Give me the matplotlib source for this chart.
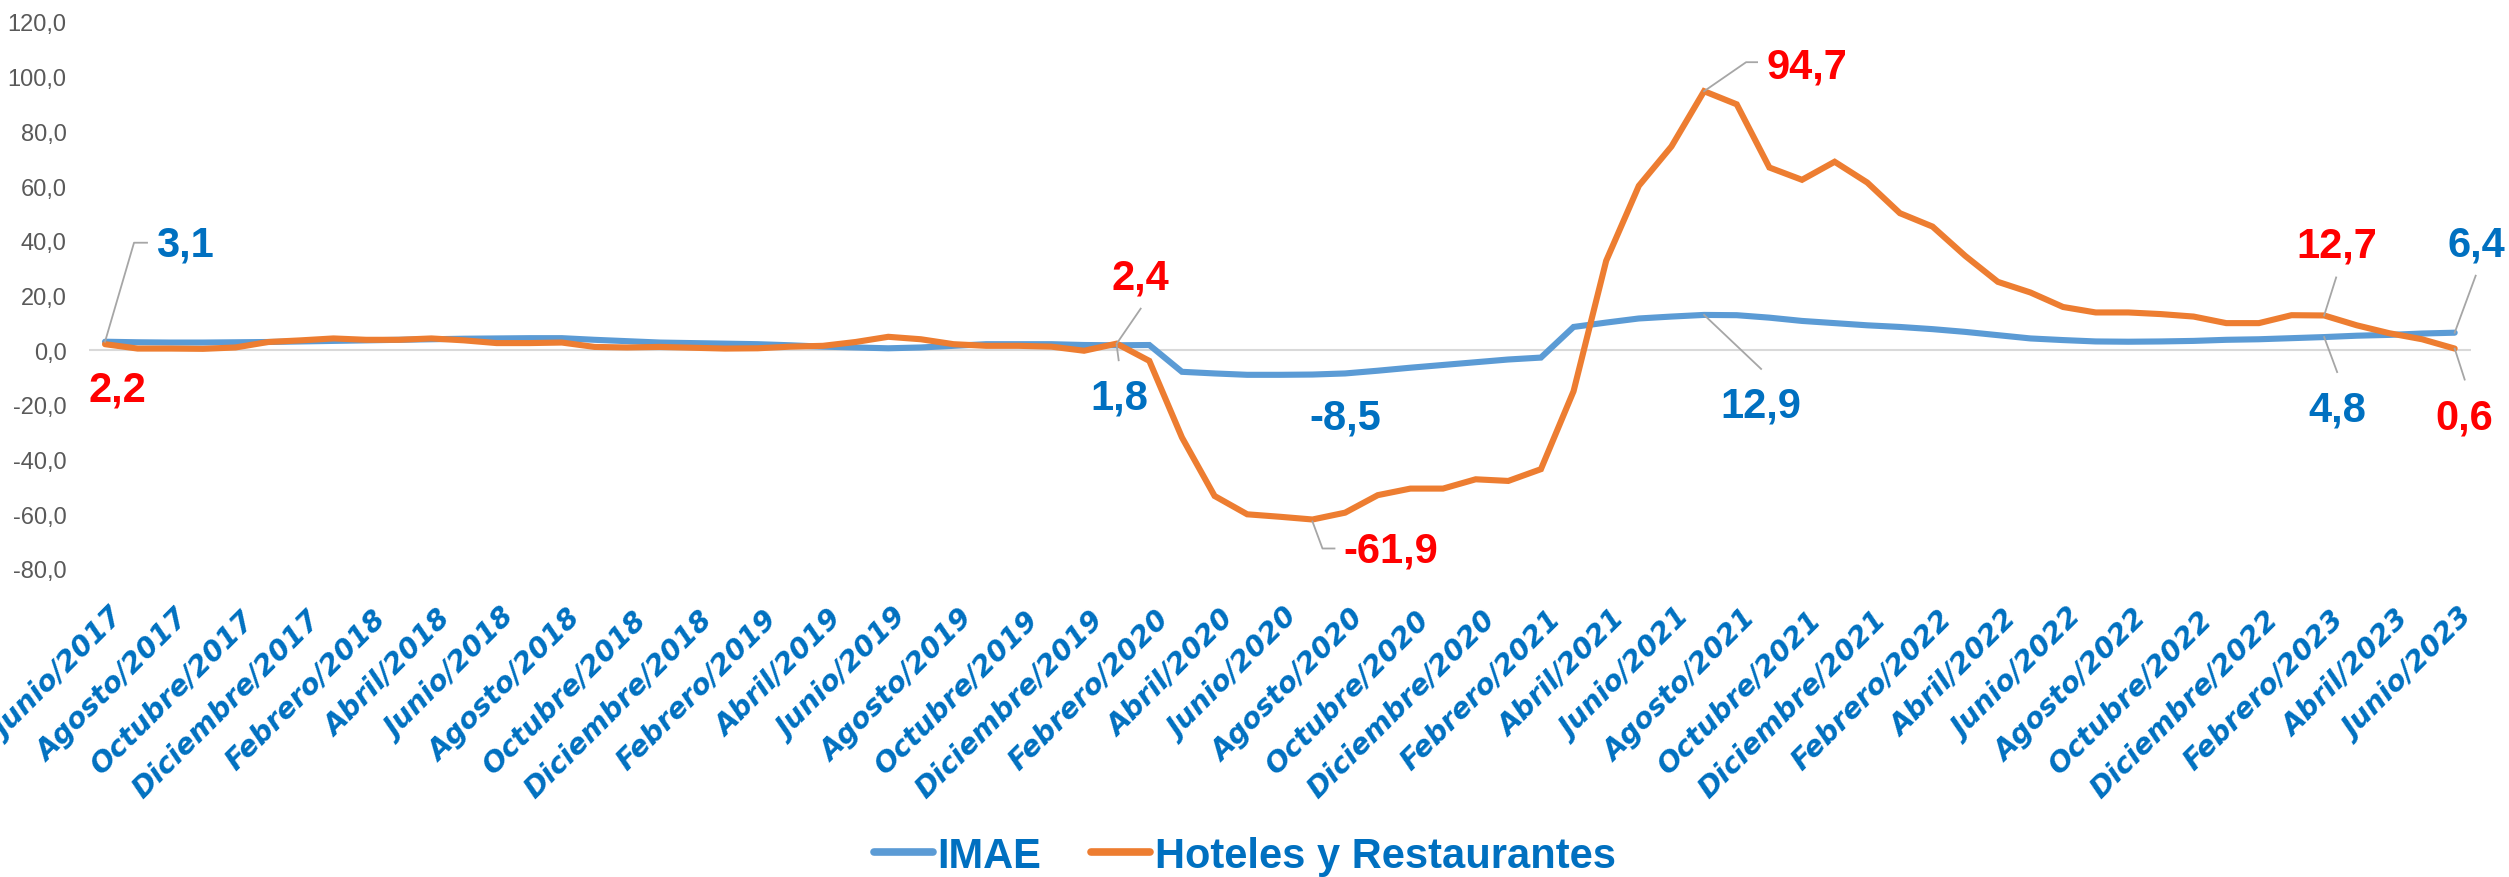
import matplotlib
matplotlib.use("Agg")
import matplotlib.pyplot as plt
import matplotlib.transforms as mtransforms
from matplotlib.lines import Line2D
from matplotlib.ticker import FuncFormatter, FixedLocator

# ---------------- data ----------------
tick_labels = [
    "Junio/2017", "Agosto/2017", "Octubre/2017", "Diciembre/2017",
    "Febrero/2018", "Abril/2018", "Junio/2018", "Agosto/2018", "Octubre/2018", "Diciembre/2018",
    "Febrero/2019", "Abril/2019", "Junio/2019", "Agosto/2019", "Octubre/2019", "Diciembre/2019",
    "Febrero/2020", "Abril/2020", "Junio/2020", "Agosto/2020", "Octubre/2020", "Diciembre/2020",
    "Febrero/2021", "Abril/2021", "Junio/2021", "Agosto/2021", "Octubre/2021", "Diciembre/2021",
    "Febrero/2022", "Abril/2022", "Junio/2022", "Agosto/2022", "Octubre/2022", "Diciembre/2022",
    "Febrero/2023", "Abril/2023", "Junio/2023",
]

imae = [
    3.1, 2.9, 2.8, 2.8, 2.9, 3.0, 3.2, 3.4, 3.6, 3.8, 4.0, 4.2, 4.3, 4.4, 4.4,
    3.8, 3.3, 2.8, 2.6, 2.4, 2.2, 1.8, 1.3, 1.0, 0.7, 1.0, 1.6, 2.2, 2.2, 2.2,
    1.9, 1.8, 1.9, -7.9, -8.5, -9.0, -9.0, -8.9, -8.5, -7.5, -6.4, -5.4, -4.4,
    -3.4, -2.7, 8.5, 10.1, 11.6, 12.3, 12.9, 12.8, 11.9, 10.7, 9.9, 9.1, 8.5,
    7.7, 6.7, 5.5, 4.3, 3.7, 3.2, 3.1, 3.2, 3.4, 3.8, 4.0, 4.4, 4.8, 5.3, 5.6,
    6.1, 6.4,
]

hoteles = [
    2.2, 0.6, 0.6, 0.5, 1.0, 3.0, 3.6, 4.3, 3.8, 3.8, 4.3, 3.6, 2.6, 2.6, 2.8,
    1.2, 1.0, 1.2, 0.9, 0.6, 0.7, 1.3, 1.6, 3.0, 4.9, 4.0, 2.2, 1.6, 1.6, 1.3,
    -0.2, 2.4, -3.9, -31.9, -53.3, -60.0, -60.9, -61.9, -59.4, -53.0, -50.6,
    -50.6, -47.2, -47.8, -43.5, -15.0, 32.7, 60.1, 74.5, 94.7, 89.9, 66.8,
    62.3, 68.9, 61.3, 50.1, 45.2, 34.5, 25.0, 21.1, 15.8, 13.8, 13.8, 13.2,
    12.3, 9.9, 9.9, 12.8, 12.7, 9.1, 6.2, 4.0, 0.6,
]

series_names = ["IMAE", "Hoteles y Restaurantes"]

# labelled points: (series index, month index, text)
label_points = [
    (0, 0, "3,1"), (1, 0, "2,2"),
    (0, 31, "1,8"), (1, 31, "2,4"),
    (0, 38, "-8,5"), (1, 37, "-61,9"),
    (1, 49, "94,7"), (0, 49, "12,9"),
    (1, 68, "12,7"), (0, 68, "4,8"),
    (0, 72, "6,4"), (1, 72, "0,6"),
]

# ---------------- layout / style ----------------
# text offset (px, right/down) and leader polyline offsets (px, right/down)
label_layout = [
    dict(off=(51, -97), ha="left", leader=[(0, 0), (29, -99), (42, -99)]),
    dict(off=(12, 45), ha="center", leader=None),
    dict(off=(3, 52), ha="center", leader=[(0, 0), (2, 15)]),
    dict(off=(24, -66), ha="center", leader=[(0, 0), (24, -35)]),
    dict(off=(0, 44), ha="center", leader=None),
    dict(off=(31, 31), ha="left", leader=[(0, 2), (10, 29), (22, 29)]),
    dict(off=(62, -25), ha="left", leader=[(0, 0), (42, -29), (53, -29)]),
    dict(off=(57, 91), ha="center", leader=[(0, 0), (57, 54)]),
    dict(off=(13, -70), ha="center", leader=[(0, 0), (12, -38)]),
    dict(off=(13, 72), ha="center", leader=[(0, 0), (13, 35)]),
    dict(off=(22, -88), ha="center", leader=[(0, 0), (21, -57)]),
    dict(off=(10, 69), ha="center", leader=[(0, 0), (10, 31)]),
]

line_colors = ["#5B9BD5", "#ED7D31"]
label_colors = ["#0070C0", "#FF0000"]
W, H, DPI = 2509, 878, 100

fig = plt.figure(figsize=(W / DPI, H / DPI), dpi=DPI)
fig.patch.set_facecolor("white")
left_px, right_px, top_px, bottom_px = 88.7, 2471.0, 23.0, 570.0
ax = fig.add_axes([left_px / W, 1 - bottom_px / H,
                   (right_px - left_px) / W, (bottom_px - top_px) / H])

x = list(range(len(imae)))
series = [imae, hoteles]
for s, name in enumerate(series_names):
    ax.plot(x, series[s], color=line_colors[s], lw=4.4, label=name,
            solid_joinstyle="miter", solid_capstyle="round", zorder=3 + s)

ax.axhline(0, color="#D9D9D9", lw=1.5, zorder=1)
ax.set_xlim(-0.5, len(imae) - 0.5)
ax.set_ylim(-80, 120)
ax.set_yticks(range(-80, 121, 20))
ax.yaxis.set_major_formatter(FuncFormatter(lambda v, p: f"{v:.1f}".replace(".", ",")))
for sp in ax.spines.values():
    sp.set_visible(False)
ax.tick_params(axis="y", length=0, pad=16, labelsize=17, labelcolor="#595959")
for t in ax.get_yticklabels():
    t.set_fontfamily(["Liberation Sans", "DejaVu Sans"])

tick_pos = list(range(0, len(imae), 2))
ax.xaxis.set_major_locator(FixedLocator(tick_pos))
ax.set_xticklabels(tick_labels, rotation=45, ha="right", va="top",
                   rotation_mode="anchor", fontsize=20.5, fontweight="bold",
                   fontstyle="oblique", color="#0070C0", family="DejaVu Sans")
ax.tick_params(axis="x", length=0, pad=25)
shift = mtransforms.ScaledTranslation(5 / DPI, 0, fig.dpi_scale_trans)
for t in ax.get_xticklabels():
    t.set_transform(t.get_transform() + shift)

# data labels with leader lines
for (s, i, txt), lay in zip(label_points, label_layout):
    v = series[s][i]
    ax.annotate(txt, xy=(i, v), xycoords="data",
                xytext=(lay["off"][0], -lay["off"][1]), textcoords="offset pixels",
                ha=lay["ha"], va="center", fontsize=30, fontweight="bold",
                color=label_colors[s], family=["Liberation Sans", "DejaVu Sans"],
                zorder=6)
    if lay["leader"]:
        px, py = ax.transData.transform((i, v))
        xs = [px + dx for dx, dy in lay["leader"]]
        ys = [py - dy for dx, dy in lay["leader"]]
        fig.add_artist(Line2D(xs, ys, transform=mtransforms.IdentityTransform(),
                              color="#A6A6A6", lw=1.3, zorder=7))

leg = fig.legend(loc="center", bbox_to_anchor=(1245 / W, 1 - 857 / H), ncol=2,
                 frameon=False, handlelength=1.4, handletextpad=0.12,
                 columnspacing=1.2,
                 prop={"family": ["Liberation Sans", "DejaVu Sans"],
                       "weight": "bold", "size": 30})
for t in leg.get_texts():
    t.set_color("#0070C0")
for h in leg.legend_handles:
    h.set_linewidth(5.5)
    h.set_solid_capstyle("round")

fig.savefig("out.png", dpi=DPI, facecolor="white")
